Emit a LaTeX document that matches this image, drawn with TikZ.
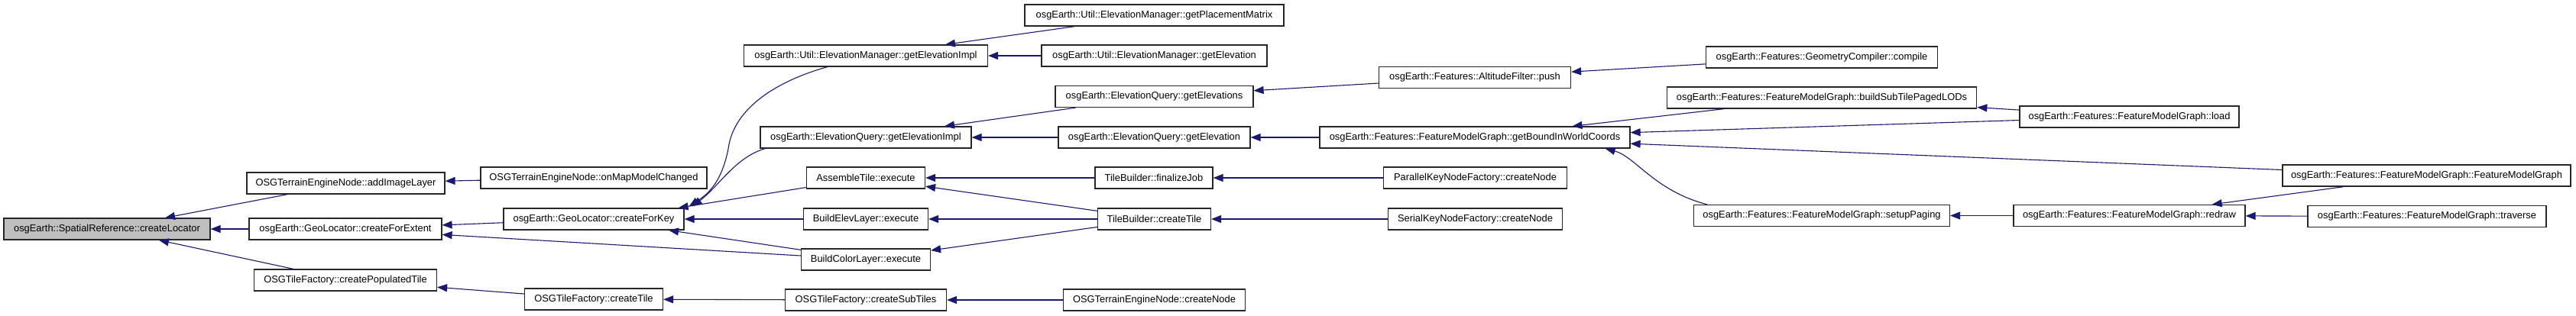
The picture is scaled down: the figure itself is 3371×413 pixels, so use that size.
\documentclass[tikz,border=0pt]{standalone}
\usepackage{fontspec}
\setmainfont{Liberation Sans}
\usetikzlibrary{arrows.meta}
\definecolor{midnight}{RGB}{25,25,112}

\begin{document}
\begin{tikzpicture}[x=1pt,y=-1pt,
		fn/.style={draw=black!85,line width=1.2pt,fill=white,minimum height=28pt,inner xsep=2pt,inner ysep=0pt,font=\fontsize{12.9}{15}\selectfont},
		call/.style={draw=midnight,line width=1.1pt,{Triangle[length=13pt,width=10pt]}-}]
		\useasboundingbox (0,0) rectangle (3371,413);
		\node[fn,fill={rgb,255:red,191;green,191;blue,191},minimum width=270pt] (loc) at (140,300) {osgEarth::SpatialReference::createLocator};
		\node[fn,minimum width=259pt] (addimg) at (452.5,240) {OSGTerrainEngineNode::addImageLayer};
		\node[fn,minimum width=252pt] (extent) at (452,300) {osgEarth::GeoLocator::createForExtent};
		\node[fn,minimum width=239pt] (poptile) at (452,367) {OSGTileFactory::createPopulatedTile};
		\node[fn,minimum width=296pt] (mapmod) at (777,233) {OSGTerrainEngineNode::onMapModelChanged};
		\node[fn,minimum width=236pt] (forkey) at (777,287) {osgEarth::GeoLocator::createForKey};
		\node[fn,minimum width=181pt] (osgtile) at (777,392) {OSGTileFactory::createTile};
		\node[fn,minimum width=319pt] (emimpl) at (1133,73) {osgEarth::Util::ElevationManager::getElevationImpl};
		\node[fn,minimum width=276pt] (eqimpl) at (1133,180) {osgEarth::ElevationQuery::getElevationImpl};
		\node[fn,minimum width=155pt] (assemble) at (1133,233) {AssembleTile::execute};
		\node[fn,minimum width=163pt] (elevlayer) at (1133,287) {BuildElevLayer::execute};
		\node[fn,minimum width=169pt] (colorlayer) at (1133,340) {BuildColorLayer::execute};
		\node[fn,minimum width=211pt] (subtiles) at (1133,393) {OSGTileFactory::createSubTiles};
		\node[fn,minimum width=339pt] (placement) at (1510.5,20) {osgEarth::Util::ElevationManager::getPlacementMatrix};
		\node[fn,minimum width=295pt] (emelev) at (1510.5,73) {osgEarth::Util::ElevationManager::getElevation};
		\node[fn,minimum width=259pt] (eqelevs) at (1510.5,126.5) {osgEarth::ElevationQuery::getElevations};
		\node[fn,minimum width=251pt] (eqelev) at (1510.5,180) {osgEarth::ElevationQuery::getElevation};
		\node[fn,minimum width=154pt] (finalize) at (1510,233) {TileBuilder::finalizeJob};
		\node[fn,minimum width=148pt] (tbtile) at (1510.5,287) {TileBuilder::createTile};
		\node[fn,minimum width=238pt] (createnode) at (1510.5,393) {OSGTerrainEngineNode::createNode};
		\node[fn,minimum width=406pt] (bound) at (1930,180) {osgEarth::Features::FeatureModelGraph::getBoundInWorldCoords};
		\node[fn,minimum width=251pt] (altitude) at (1930,101.5) {osgEarth::Features::AltitudeFilter::push};
		\node[fn,minimum width=240pt] (parallel) at (1930.5,233) {ParallelKeyNodeFactory::createNode};
		\node[fn,minimum width=228.5pt] (serial) at (1930.5,287) {SerialKeyNodeFactory::createNode};
		\node[fn,minimum width=303pt] (compile) at (2384,75) {osgEarth::Features::GeometryCompiler::compile};
		\node[fn,minimum width=405.5pt] (buildsub) at (2384,128) {osgEarth::Features::FeatureModelGraph::buildSubTilePagedLODs};
		\node[fn,minimum width=335pt] (setup) at (2384,282.5) {osgEarth::Features::FeatureModelGraph::setupPaging};
		\node[fn,minimum width=287pt] (load) at (2786.5,153) {osgEarth::Features::FeatureModelGraph::load};
		\node[fn,minimum width=303pt] (redraw) at (2786.5,282.5) {osgEarth::Features::FeatureModelGraph::redraw};
		\node[fn,minimum width=377pt] (fmg) at (3175.5,230) {osgEarth::Features::FeatureModelGraph::FeatureModelGraph};
		\node[fn,minimum width=312pt] (traverse) at (3176,283.5) {osgEarth::Features::FeatureModelGraph::traverse};
		\draw[call] (loc) -- (addimg);
		\draw[call] (loc) -- (extent);
		\draw[call] (loc) -- (poptile);
		\draw[call] (addimg) -- (mapmod);
		\draw[call] (extent) -- (forkey);
		\draw[call] (extent) -- (colorlayer);
		\draw[call] (poptile) -- (osgtile);
		\draw[call] ([xshift=6pt,yshift=2pt]forkey.north east) .. controls (930,252) and (945,235) .. (953,195) .. controls (960,140) and (1020,105) .. ([xshift=110pt]emimpl.south west);
		\draw[call] ([xshift=10pt,yshift=2pt]forkey.north east) .. controls (940,245) and (962,206) .. ([xshift=7pt]eqimpl.south west);
		\draw[call] ([xshift=-8pt]forkey.north east) -- (assemble);
		\draw[call] (forkey) -- (elevlayer);
		\draw[call] (forkey) -- (colorlayer);
		\draw[call] (osgtile) -- (subtiles);
		\draw[call] (emimpl) -- (placement);
		\draw[call] (emimpl) -- (emelev);
		\draw[call] (eqimpl) -- (eqelevs);
		\draw[call] (eqimpl) -- (eqelev);
		\draw[call] (assemble) -- (finalize);
		\draw[call] (assemble) -- (tbtile);
		\draw[call] (elevlayer) -- (tbtile);
		\draw[call] (colorlayer) -- (tbtile);
		\draw[call] (subtiles) -- (createnode);
		\draw[call] (eqelevs) -- (altitude);
		\draw[call] (eqelev) -- (bound);
		\draw[call] (finalize) -- (parallel);
		\draw[call] (tbtile) -- (serial);
		\draw[call] (altitude) -- (compile);
		\draw[call] (bound) -- (buildsub);
		\draw[call] (bound) -- (load);
		\draw[call] (bound) -- (fmg);
		\draw[call] ([xshift=-33pt]bound.south east) .. controls (2140,205) and (2165,250) .. ([xshift=18pt]setup.north west);
		\draw[call] (buildsub) -- (load);
		\draw[call] (setup) -- (redraw);
		\draw[call] (redraw) -- (fmg);
		\draw[call] (redraw) -- (traverse);
\end{tikzpicture}
\end{document}
